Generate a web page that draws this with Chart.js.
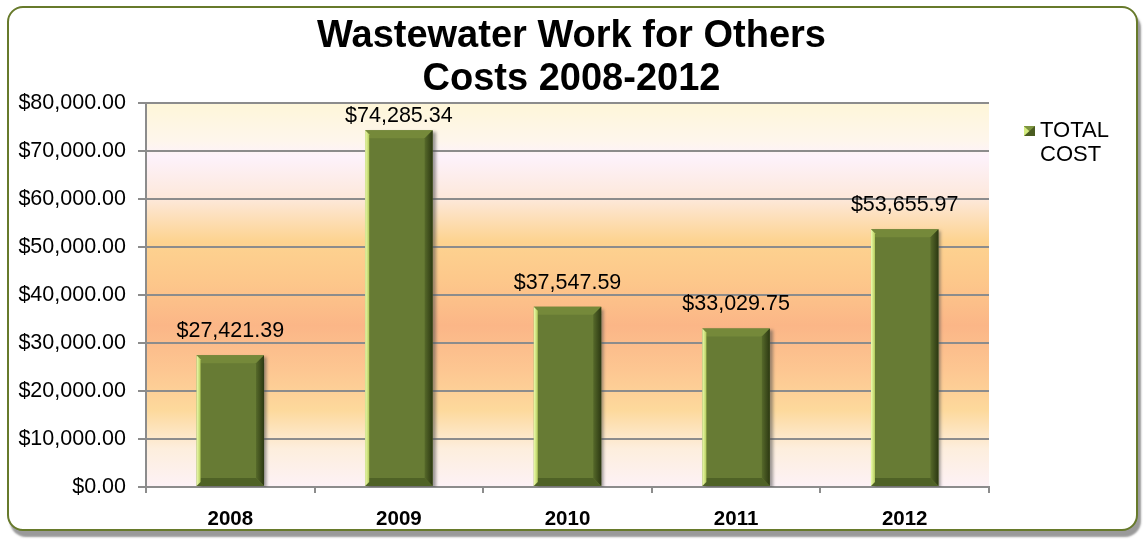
<!DOCTYPE html>
<html>
<head>
<meta charset="utf-8">
<script src="https://cdn.jsdelivr.net/npm/chart.js@4.4.1/dist/chart.umd.min.js"></script>
<style>
  html, body { margin: 0; padding: 0; background: #ffffff; }
  #wrap { position: relative; width: 1143px; height: 542px; overflow: hidden; }
  #frame {
    position: absolute; left: 7px; top: 6px; width: 1127px; height: 521px;
    border: 2px solid #677a2b; border-radius: 16px; background: #ffffff;
    box-shadow: 3px 6px 2px rgba(120,120,120,0.75);
  }
  #c { position: absolute; left: 0; top: 0; }
</style>
</head>
<body>
<div id="wrap">
  <div id="frame"></div>
  <canvas id="c" width="1143" height="542"></canvas>
</div>
<script>
// ---- data ----
const categories = ['2008', '2009', '2010', '2011', '2012'];
const totalCost = [27421.39, 74285.34, 37547.59, 33029.75, 53655.97];
const seriesLabel = 'TOTAL COST';
const titleLines = ['Wastewater Work for Others', 'Costs 2008-2012'];
const yTickValues = [0, 10000, 20000, 30000, 40000, 50000, 60000, 70000, 80000];

const FONT = '"Liberation Sans", Arial, sans-serif';
const money = v => '$' + Number(v).toLocaleString('en-US', { minimumFractionDigits: 2, maximumFractionDigits: 2 });

// plot background gradient
const bgPlugin = {
  id: 'bgGrad',
  beforeDraw(chart) {
    const { ctx, chartArea: a } = chart;
    const g = ctx.createLinearGradient(0, a.top, 0, a.bottom);
    g.addColorStop(0.00, '#fef6d8');
    g.addColorStop(0.10, '#fef6ec');
    g.addColorStop(0.14, '#fdf2fb');
    g.addColorStop(0.25, '#fde8da');
    g.addColorStop(0.36, '#fdd390');
    g.addColorStop(0.46, '#fdc88b');
    g.addColorStop(0.58, '#fbb687');
    g.addColorStop(0.70, '#fdc792');
    g.addColorStop(0.80, '#fdd99c');
    g.addColorStop(0.90, '#fdeedd');
    g.addColorStop(1.00, '#fdf2f6');
    ctx.save();
    ctx.fillStyle = g;
    ctx.fillRect(a.left, a.top, a.right - a.left, a.bottom - a.top);
    ctx.restore();
  }
};

// bar shadow + bevels + value labels
const barDeco = {
  id: 'barDeco',
  beforeDatasetsDraw(chart) {
    const ctx = chart.ctx;
    ctx.save();
    ctx.shadowColor = 'rgba(80,80,80,0.55)';
    ctx.shadowOffsetX = 3;
    ctx.shadowOffsetY = 2;
    ctx.shadowBlur = 3;
  },
  afterDatasetsDraw(chart) {
    const ctx = chart.ctx;
    ctx.restore();
    const meta = chart.getDatasetMeta(0);
    const a = chart.chartArea;
    meta.data.forEach((bar, i) => {
      const p = bar.getProps(['x', 'y', 'base', 'width'], true);
      const l = p.x - p.width / 2, r = p.x + p.width / 2, t = p.y, b = p.base;
      const bv = 8;
      ctx.save();
      // top bevel
      ctx.beginPath();
      ctx.moveTo(l, t); ctx.lineTo(r, t); ctx.lineTo(r - bv, t + bv); ctx.lineTo(l + 4, t + bv); ctx.closePath();
      ctx.fillStyle = '#75893a'; ctx.fill();
      // right dark side
      const gr = ctx.createLinearGradient(r - bv, 0, r, 0);
      gr.addColorStop(0, '#56692a'); gr.addColorStop(1, '#2c3812');
      ctx.beginPath();
      ctx.moveTo(r, t); ctx.lineTo(r, b); ctx.lineTo(r - bv, b - bv); ctx.lineTo(r - bv, t + bv); ctx.closePath();
      ctx.fillStyle = gr; ctx.fill();
      // bottom bevel
      ctx.beginPath();
      ctx.moveTo(l, b); ctx.lineTo(r, b); ctx.lineTo(r - bv, b - bv); ctx.lineTo(l + 4, b - bv); ctx.closePath();
      ctx.fillStyle = '#4f6226'; ctx.fill();
      // left light strip
      const gl = ctx.createLinearGradient(l, 0, l + 4, 0);
      gl.addColorStop(0, '#eefcae'); gl.addColorStop(1, '#b4cc5c');
      ctx.beginPath();
      ctx.moveTo(l, t); ctx.lineTo(l + 4, t + 4); ctx.lineTo(l + 4, b - 4); ctx.lineTo(l, b); ctx.closePath();
      ctx.fillStyle = gl; ctx.fill();
      ctx.restore();

      // value label
      ctx.save();
      ctx.font = '21.5px ' + FONT;
      ctx.fillStyle = '#000000';
      ctx.textAlign = 'center';
      ctx.textBaseline = 'middle';
      const ly = Math.max(t - 24, a.top + 13);
      ctx.fillText(money(chart.data.datasets[0].data[i]), p.x, ly);
      ctx.restore();
    });
  }
};

// legend drawn at right
const legendPlugin = {
  id: 'rightLegend',
  afterDraw(chart) {
    const ctx = chart.ctx;
    const ds = chart.data.datasets[0];
    const words = ds.label.split(' ');
    const x0 = 1024, y0 = 126;
    ctx.save();
    // marker
    ctx.fillStyle = '#4a5c20';
    ctx.fillRect(x0, y0, 11, 10);
    ctx.beginPath();
    ctx.moveTo(x0, y0); ctx.lineTo(x0 + 5.5, y0 + 5); ctx.lineTo(x0, y0 + 10); ctx.closePath();
    ctx.fillStyle = '#d4ec80'; ctx.fill();
    ctx.beginPath();
    ctx.moveTo(x0, y0); ctx.lineTo(x0 + 11, y0); ctx.lineTo(x0 + 5.5, y0 + 5); ctx.closePath();
    ctx.fillStyle = '#7d9440'; ctx.fill();
    ctx.font = '22px ' + FONT;
    ctx.fillStyle = '#000000';
    ctx.textAlign = 'left';
    ctx.textBaseline = 'middle';
    words.forEach((w, k) => ctx.fillText(w, 1040, 131 + k * 24));
    ctx.restore();
  }
};

new Chart(document.getElementById('c'), {
  type: 'bar',
  data: {
    labels: categories,
    datasets: [{
      label: seriesLabel,
      data: totalCost,
      backgroundColor: '#677b34',
      borderWidth: 0,
      categoryPercentage: 1.0,
      barPercentage: 0.4
    }]
  },
  options: {
    responsive: false,
    animation: false,
    events: [],
    layout: { padding: { left: 0, right: 0, top: 0, bottom: 0 } },
    plugins: {
      legend: { display: false },
      tooltip: { enabled: false },
      title: {
        display: true,
        text: titleLines,
        color: '#000000',
        font: { family: FONT, size: 38, weight: 'bold', lineHeight: 1.13 },
        padding: { top: 15, bottom: 2 }
      }
    },
    scales: {
      x: {
        grid: { display: true, drawOnChartArea: false, drawTicks: true, tickLength: 6, color: '#8c8c8c', lineWidth: 2, offset: true },
        border: { display: true, color: '#8c8c8c', width: 2 },
        ticks: { color: '#000000', padding: 14, font: { family: FONT, size: 20.5, weight: 'bold' } },
        afterFit(scale) { scale.height = 55; }
      },
      y: {
        min: 0, max: 80000,
        afterBuildTicks(scale) { scale.ticks = yTickValues.map(v => ({ value: v })); },
        grid: { color: '#8c8c8c', lineWidth: 2, tickLength: 8 },
        border: { display: true, color: '#8c8c8c', width: 2 },
        ticks: { color: '#000000', padding: 12, font: { family: FONT, size: 21.5 }, callback: v => money(v) },
        afterFit(scale) { scale.width = 146; }
      },
      legendSpace: {
        type: 'linear',
        position: 'right',
        min: 0, max: 1,
        display: true,
        grid: { display: false, drawOnChartArea: false, drawTicks: false },
        border: { display: false },
        ticks: { display: false },
        afterFit(scale) { scale.width = 154; }
      }
    }
  },
  plugins: [bgPlugin, barDeco, legendPlugin]
});
</script>
</body>
</html>
